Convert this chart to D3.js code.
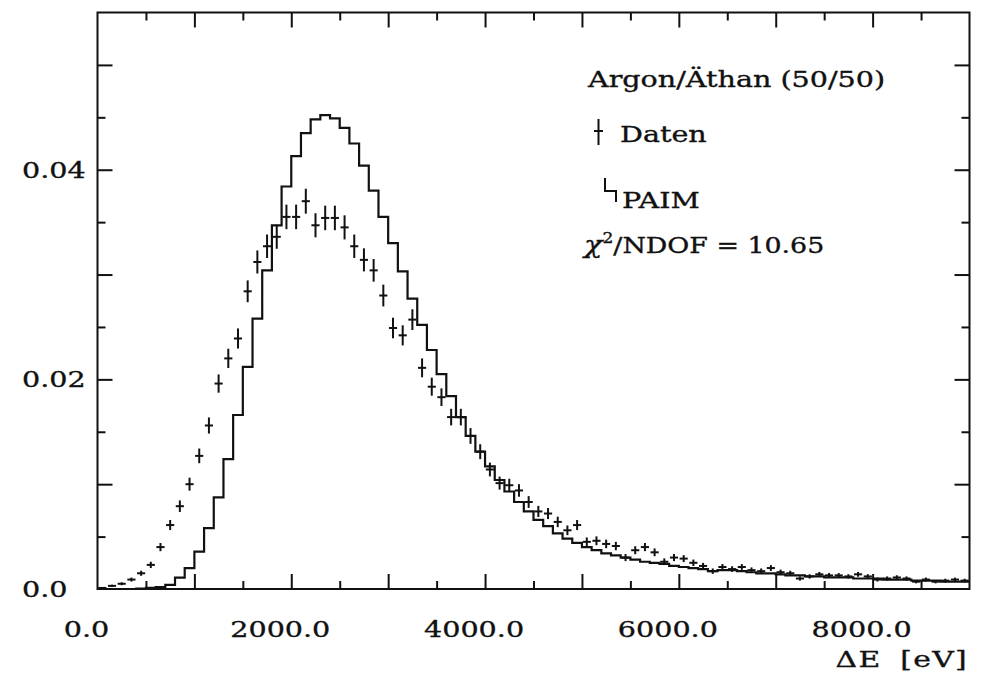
<!DOCTYPE html>
<html>
<head>
<meta charset="utf-8">
<script src="https://cdn.jsdelivr.net/npm/d3@7"></script>
<style>
  body { margin: 0; background: #fff; }
  svg { display: block; }
  .txt { font-family: "DejaVu Serif", serif; fill: #111; stroke: #111; stroke-width: 0.35px; }
</style>
</head>
<body>
<div class="svg_container"></div>
<script>
// bins of 100 eV, lower edges 0 ... 8900
var binStart = d3.range(0, 9000, 100);

// PAIM simulation, histogram height per bin
var paim = [
  0, 0, 0, 0, 0.00005, 0.0001, 0.00018, 0.0004, 0.00108, 0.0020,
  0.00356, 0.0058, 0.00875, 0.0124, 0.0166, 0.0212, 0.0258, 0.0304, 0.0347, 0.0384,
  0.0413, 0.0435, 0.0448, 0.0452, 0.0449, 0.0440, 0.0425, 0.0404, 0.0380, 0.0355,
  0.0330, 0.0303, 0.0277, 0.0252, 0.0228, 0.0205, 0.0184, 0.0164, 0.0146, 0.0131,
  0.0117, 0.0104, 0.0093, 0.0083, 0.0074, 0.0066, 0.0060, 0.0053, 0.0048, 0.0044,
  0.0040, 0.0037, 0.0034, 0.0032, 0.0030, 0.0028, 0.0026, 0.0025, 0.0024, 0.0022,
  0.0021, 0.0020, 0.0019, 0.0017, 0.0018, 0.0018, 0.0017, 0.0016, 0.0015, 0.0015,
  0.0014, 0.0013, 0.0013, 0.0012, 0.0012, 0.0011, 0.0011, 0.0011, 0.0010, 0.0010,
  0.0010, 0.0009, 0.0009, 0.0009, 0.0008, 0.0008, 0.0008, 0.0007, 0.0007, 0.0007
];

// measured data, per bin
var daten = [
  0.0001, 0.0003, 0.0005, 0.0009, 0.0015, 0.0023, 0.0040, 0.0061, 0.0079, 0.0100,
  0.0127, 0.0156, 0.0196, 0.0220, 0.0239, 0.0284, 0.0312, 0.0327, 0.0336, 0.0355,
  0.0355, 0.0370, 0.0347, 0.0354, 0.0354, 0.0345, 0.0327, 0.0314, 0.0304, 0.0280,
  0.0249, 0.0242, 0.0257, 0.0211, 0.0193, 0.0183, 0.0164, 0.0164, 0.0146, 0.0131,
  0.0114, 0.0101, 0.0099, 0.0094, 0.0083, 0.0074, 0.0072, 0.0064, 0.0056, 0.0061,
  0.0045, 0.0046, 0.0043, 0.0041, 0.0030, 0.0037, 0.0040, 0.0035, 0.0026, 0.0030,
  0.0029, 0.0025, 0.0022, 0.0017, 0.0021, 0.0019, 0.0021, 0.0018, 0.0017, 0.0020,
  0.0016, 0.0015, 0.0010, 0.0012, 0.0014, 0.0013, 0.0013, 0.0012, 0.0014, 0.0012,
  0.0009, 0.0010, 0.0011, 0.0010, 0.0007, 0.0009, 0.0007, 0.0008, 0.0009, 0.0008
];

var datenErr = [
  0.00006, 0.00011, 0.00014, 0.00019, 0.00024, 0.0003, 0.00039, 0.00048, 0.00055, 0.00062,
  0.0007, 0.00077, 0.00087, 0.00092, 0.00096, 0.00104, 0.0011, 0.00112, 0.00114, 0.00117,
  0.00117, 0.00119, 0.00115, 0.00117, 0.00117, 0.00115, 0.00112, 0.0011, 0.00108, 0.00104,
  0.00098, 0.00096, 0.00099, 0.0009, 0.00086, 0.00084, 0.00079, 0.00079, 0.00075, 0.00071,
  0.00066, 0.00062, 0.00062, 0.0006, 0.00056, 0.00053, 0.00053, 0.0005, 0.00046, 0.00048,
  0.00042, 0.00042, 0.00041, 0.0004, 0.00034, 0.00038, 0.00039, 0.00037, 0.00032, 0.00034,
  0.00033, 0.00031, 0.00029, 0.00026, 0.00028, 0.00027, 0.00028, 0.00026, 0.00026, 0.00028,
  0.00025, 0.00024, 0.0002, 0.00021, 0.00023, 0.00022, 0.00022, 0.00021, 0.00023, 0.00021,
  0.00019, 0.0002, 0.00021, 0.0002, 0.00016, 0.00019, 0.00016, 0.00018, 0.00019, 0.00018
];

var xLabelValues = [0, 2000, 4000, 6000, 8000];
var xLabels = ["0.0", "2000.0", "4000.0", "6000.0", "8000.0"];
var yLabelValues = [0, 0.02, 0.04];
var yLabels = ["0.0", "0.02", "0.04"];

const WIDTH = 981;
const HEIGHT = 686;
const BIN = 100;
const STRETCH = 1.3;   // the plotter font is wide, widen the serif glyphs

var x = d3.scaleLinear().domain([0, 9000]).range([97.5, 969.5]);
var y = d3.scaleLinear().domain([0, 0.055]).range([589, 12.5]);

var svg = d3.select('.svg_container').append('svg')
    .attr('width', WIDTH)
    .attr('height', HEIGHT);

var translate = function (tx, ty) {
    return 'translate(' + tx + ',' + ty + ')';
};

var addText = function (parent, str, tx, ty, anchor, size) {
    return parent.append('text')
        .attr('class', 'txt')
        .attr('transform', translate(tx, ty) + ' scale(' + STRETCH + ',1)')
        .attr('text-anchor', anchor)
        .style('font-size', size + 'px')
        .text(str);
};

// ticks on all four sides, pointing inward
var xMinor = d3.range(500, 9000, 1000);
var xMajor = d3.range(1000, 9000, 1000);
var yMinor = d3.range(0.005, 0.055, 0.01);
var yMajor = [0.01, 0.02, 0.03, 0.04, 0.05];

var addAxis = function (axisFn, scale, values, size, tx, ty) {
    var g = svg.append('g')
        .attr('transform', translate(tx, ty))
        .call(axisFn(scale).tickValues(values).tickSize(-size).tickSizeOuter(0).tickFormat(''));
    g.select('.domain').remove();
    g.selectAll('line').attr('stroke', '#111').attr('stroke-width', 2);
};

addAxis(d3.axisBottom, x, xMinor, 8, 0, 589);
addAxis(d3.axisBottom, x, xMajor, 15, 0, 589);
addAxis(d3.axisTop, x, xMinor, 8, 0, 12.5);
addAxis(d3.axisTop, x, xMajor, 15, 0, 12.5);
addAxis(d3.axisLeft, y, yMinor, 8, 97.5, 0);
addAxis(d3.axisLeft, y, yMajor, 15, 97.5, 0);
addAxis(d3.axisRight, y, yMinor, 8, 969.5, 0);
addAxis(d3.axisRight, y, yMajor, 15, 969.5, 0);

// frame
svg.append('rect')
    .attr('x', x(0)).attr('y', y(0.055))
    .attr('width', x(9000) - x(0)).attr('height', y(0) - y(0.055))
    .attr('fill', 'none').attr('stroke', '#111').attr('stroke-width', 2);

// tick labels
xLabelValues.forEach(function (d, i) {
    addText(svg, xLabels[i], x(d) - 11, 637, 'middle', 22);
});
yLabelValues.forEach(function (d, i) {
    addText(svg, yLabels[i], 22, y(d) + 8, 'start', 22);
});

// axis title, a little airier than the rest
addText(svg, '\u0394E [eV]', 968, 667, 'end', 23)
    .style('word-spacing', '6px')
    .style('letter-spacing', '1px');

// PAIM histogram
var histPts = binStart.map(function (b, i) { return [b, paim[i]]; });
histPts.push([9000, paim[paim.length - 1]]);

var histLine = d3.line()
    .x(function (d) { return x(d[0]); })
    .y(function (d) { return y(d[1]); })
    .curve(d3.curveStepAfter);

svg.append('path')
    .attr('d', histLine(histPts))
    .attr('fill', 'none')
    .attr('stroke', '#111')
    .attr('stroke-width', 2.2);

// data crosses
var pts = binStart.map(function (b, i) {
    return {e: b + BIN / 2, v: daten[i], err: datenErr[i]};
});

var cross = svg.append('g').attr('stroke', '#111').attr('stroke-width', 2);
cross.selectAll('line.v').data(pts).enter().append('line')
    .attr('class', 'v')
    .attr('x1', function (d) { return x(d.e); })
    .attr('x2', function (d) { return x(d.e); })
    .attr('y1', function (d) { return y(d.v + d.err); })
    .attr('y2', function (d) { return y(Math.max(0, d.v - d.err)); });
cross.selectAll('line.h').data(pts).enter().append('line')
    .attr('class', 'h')
    .attr('x1', function (d) { return x(d.e - 42); })
    .attr('x2', function (d) { return x(d.e + 42); })
    .attr('y1', function (d) { return y(d.v); })
    .attr('y2', function (d) { return y(d.v); });

// legend / annotations
addText(svg, 'Argon/\u00C4than (50/50)', 588, 87, 'start', 22);

var lg = svg.append('g').attr('stroke', '#111').attr('stroke-width', 2).attr('fill', 'none');
lg.append('line').attr('x1', 598.5).attr('x2', 598.5).attr('y1', 119).attr('y2', 145);
lg.append('line').attr('x1', 594).attr('x2', 603).attr('y1', 131).attr('y2', 131);
lg.append('path').attr('d', 'M605,178V191H616V202');

addText(svg, 'Daten', 620, 142, 'start', 22);
addText(svg, 'PAIM', 622, 208, 'start', 22);

var chi = svg.append('text').attr('class', 'txt')
    .attr('transform', translate(584, 253) + ' scale(1.22,1)')
    .style('font-size', '22px');
chi.append('tspan').style('font-style', 'italic').style('font-size', '25px').text('\u03C7');
chi.append('tspan').attr('dy', -10).style('font-size', '14px').text('2');
chi.append('tspan').attr('dy', 10).text('/NDOF = 10.65');
</script>
</body>
</html>
